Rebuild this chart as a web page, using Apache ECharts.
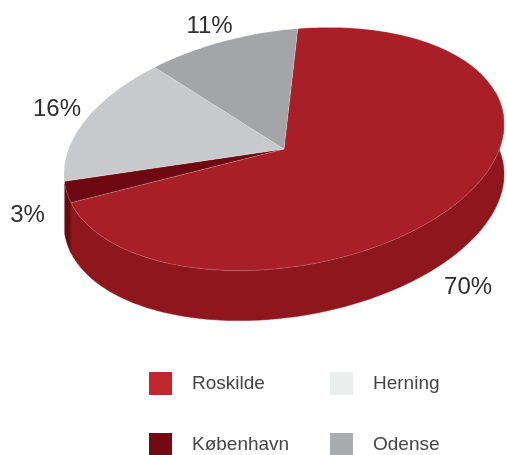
<!DOCTYPE html>
<html>
<head>
<meta charset="utf-8">
<title>Fordeling</title>
<script src="https://cdn.jsdelivr.net/npm/echarts@6/dist/echarts.min.js"></script>
<style>
  html, body { margin: 0; padding: 0; background: #fff; }
  #chart { width: 507px; height: 455px; }
</style>
</head>
<body>
<div id="chart"></div>
<script>
// data
var categories = ['Roskilde', 'København', 'Herning', 'Odense'];
var shares = [70, 3, 16, 11];

// colours: top face, side wall, legend swatch
var topColors = ['#a91f27', '#6f0911', '#c7c9cc', '#a4a5a9'];
var wallColors = ['#8f161c', '#6a0a10', '#aeb0b3', '#8c8d91'];
var legendColors = ['#c1272d', '#730a12', '#eceded', '#aaabae'];
// small nudges for the percent labels
var labelShift = [[-16, 36], [0, 12], [8, -6], [-2, 4]];

// pie geometry (tilted ellipse)
var CX = 284, CY = 149, RX = 222, RY = 118, DEPTH = 50;
var ROT = -9 * Math.PI / 180;
var START = -81.6 * Math.PI / 180;
var cosR = Math.cos(ROT), sinR = Math.sin(ROT);

function pt(t, r, dy) {
  var c = Math.cos(t) * RX * r, s = Math.sin(t) * RY * r;
  return [CX + c * cosR - s * sinR, CY + c * sinR + s * cosR + (dy || 0)];
}

var total = shares.reduce(function (a, b) { return a + b; }, 0);

function sliceAngles(i) {
  var before = 0;
  for (var k = 0; k < i; k++) before += shares[k];
  var a0 = START + before / total * Math.PI * 2;
  var a1 = START + (before + shares[i]) / total * Math.PI * 2;
  return [a0, a1];
}

function arc(a0, a1, dy) {
  var pts = [], n = Math.max(4, Math.ceil((a1 - a0) / 0.02));
  for (var k = 0; k <= n; k++) pts.push(pt(a0 + (a1 - a0) * k / n, 1, dy));
  return pts;
}

function renderItem(params, api) {
  var i = params.dataIndex;
  var val = api.value(0);
  var ang = sliceAngles(i);
  var children = [];

  // side wall, only for the front half of the rim
  var w0 = Math.max(ang[0], -0.2), w1 = Math.min(ang[1], Math.PI);
  if (w1 > w0) {
    var rim = arc(w0, w1, 0);
    var low = arc(w0, w1, DEPTH).reverse();
    children.push({
      type: 'polygon',
      z2: 1,
      shape: { points: rim.concat(low) },
      style: { fill: wallColors[i], stroke: wallColors[i], lineWidth: 0.5 }
    });
  }

  children.push({
    type: 'polygon',
    z2: 10,
    shape: { points: [pt(0, 0)].concat(arc(ang[0], ang[1], 0)) },
    style: { fill: topColors[i], stroke: 'rgba(255,255,255,0.3)', lineWidth: 0.6 }
  });

  var mid = (ang[0] + ang[1]) / 2;
  var lp = pt(mid, 1.18, DEPTH * Math.max(0, Math.sin(mid)));
  children.push({
    type: 'text',
    z2: 20,
    style: {
      text: val + '%',
      x: lp[0] + labelShift[i][0],
      y: lp[1] + labelShift[i][1],
      align: 'center',
      verticalAlign: 'middle',
      fontSize: 24,
      fontFamily: 'Liberation Sans, Arial, sans-serif',
      fill: '#2e2e2e'
    }
  });

  return { type: 'group', children: children };
}

var chart = echarts.init(document.getElementById('chart'));

var series = [{
  type: 'custom',
  name: 'fordeling',
  coordinateSystem: 'none',
  renderItem: renderItem,
  data: shares.map(function (v, i) { return { name: categories[i], value: [v, i] }; })
}];
// empty series only to carry the legend swatches
categories.forEach(function (c, i) {
  series.push({
    type: 'custom',
    name: c,
    coordinateSystem: 'none',
    renderItem: function () { return null; },
    itemStyle: { color: legendColors[i] },
    data: []
  });
});

var legendBase = {
  orient: 'vertical',
  top: 372,
  height: 120,
  icon: 'rect',
  itemWidth: 23,
  itemHeight: 23,
  itemGap: 38,
  padding: 0,
  selectedMode: false,
  textStyle: {
    fontSize: 19,
    fontFamily: 'Liberation Sans, Arial, sans-serif',
    color: '#444',
    padding: [0, 0, 0, 15]
  }
};

chart.setOption({
  animation: false,
  backgroundColor: '#fff',
  legend: [
    Object.assign({}, legendBase, { left: 149, data: [categories[0], categories[1]] }),
    Object.assign({}, legendBase, { left: 330, data: [categories[2], categories[3]] })
  ],
  series: series
});
</script>
</body>
</html>
